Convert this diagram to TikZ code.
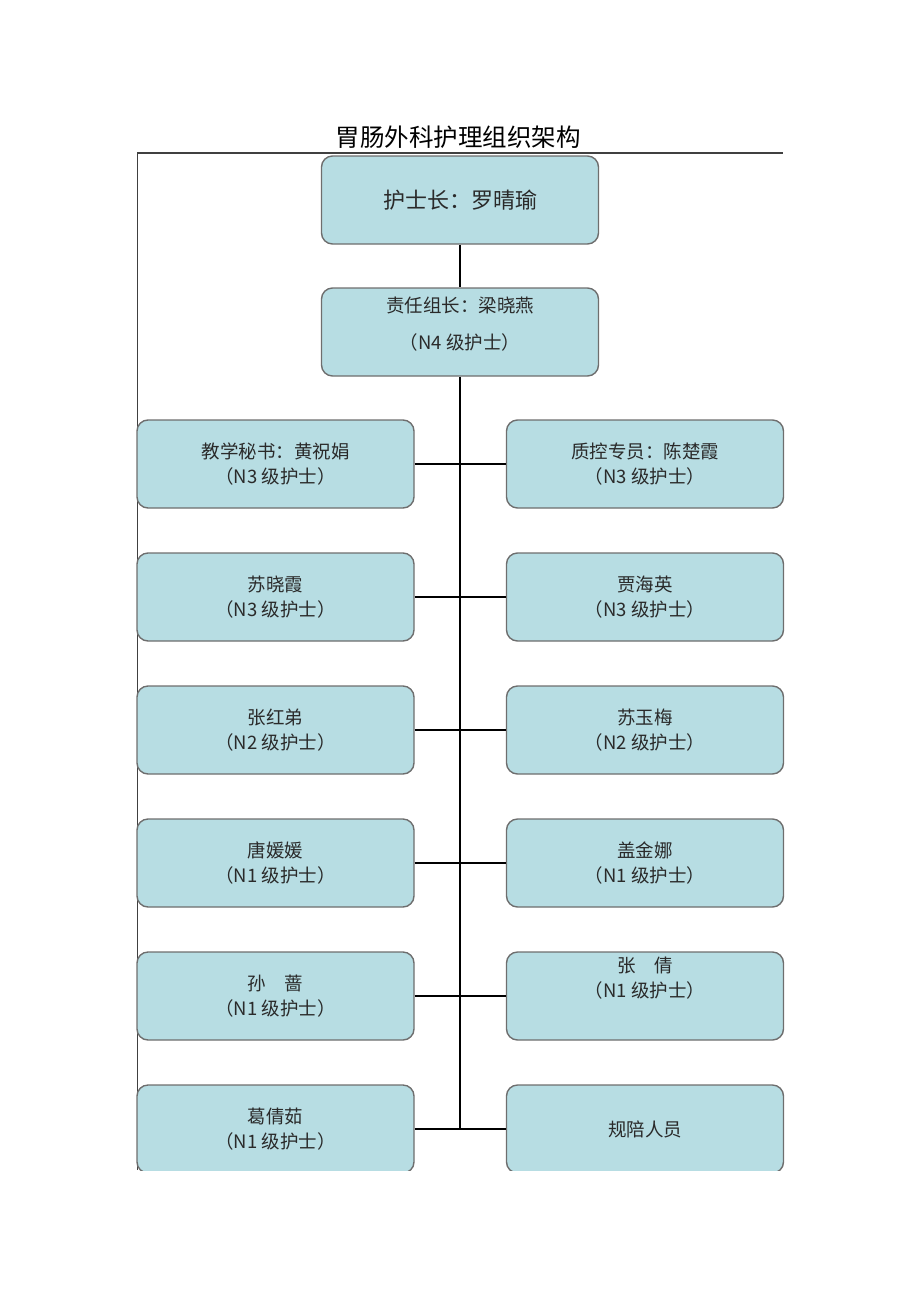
\documentclass[tikz,border=0pt]{standalone}
\usepackage{fontspec}
\setmainfont{Noto Sans CJK SC}

\definecolor{boxfill}{HTML}{B7DDE3}
\definecolor{boxline}{HTML}{6E6E6E}
\definecolor{inktext}{HTML}{2A2A2A}

\tikzset{
  staff/.style={draw=boxline, line width=1.4pt, fill=boxfill, rounded corners=11pt,
    minimum width=277pt, minimum height=88pt, inner sep=0pt, align=center,
    text=inktext, font=\fontsize{18.5}{25}\selectfont},
  link/.style={black, line width=2.8pt}
}

\begin{document}
\begin{tikzpicture}[x=1pt,y=1pt]
\useasboundingbox (0,0) rectangle (920,-1301);
% title and frame
\node (title) at (458,-137) {\fontsize{24.5}{24.5}\selectfont 胃肠外科护理组织架构};
\draw [black!75, line width=1.2pt] (137,-153) -- (783,-153);
\draw [black!75, line width=1pt] (137,-153) -- (137,-1170);

\begin{scope}
\clip (0,-150) rectangle (920,-1170);
\node [staff, font=\fontsize{22}{25}\selectfont] (head) at (460,-200) {护士长：罗晴瑜};
\node [staff, font=\fontsize{18.5}{37}\selectfont, text depth=17pt] (leader) at (460,-332) {责任组长：梁晓燕\\（N4 级护士）};
% left column
\node [staff] (l1) at (275.5,-464) {教学秘书：黄祝娟\\（N3 级护士）};
\node [staff] (l2) at (275.5,-597) {苏晓霞\\（N3 级护士）};
\node [staff] (l3) at (275.5,-730) {张红弟\\（N2 级护士）};
\node [staff] (l4) at (275.5,-863) {唐媛媛\\（N1 级护士）};
\node [staff] (l5) at (275.5,-996) {孙\quad 蔷\\（N1 级护士）};
\node [staff] (l6) at (275.5,-1129) {葛倩茹\\（N1 级护士）};
% right column
\node [staff] (r1) at (645,-464) {质控专员：陈楚霞\\（N3 级护士）};
\node [staff] (r2) at (645,-597) {贾海英\\（N3 级护士）};
\node [staff] (r3) at (645,-730) {苏玉梅\\（N2 级护士）};
\node [staff] (r4) at (645,-863) {盖金娜\\（N1 级护士）};
\node [staff, text depth=37pt] (r5) at (645,-996) {张\quad 倩\\（N1 级护士）};
\node [staff] (r6) at (645,-1129) {规陪人员};
\end{scope}

% connectors
\coordinate (jct) at (head |- l6.east);
\draw [link] (head) -- (leader);
\draw [link] (leader) -- (jct);
\draw [link] (l1.east) -- (r1.west);
\draw [link] (l2.east) -- (r2.west);
\draw [link] (l3.east) -- (r3.west);
\draw [link] (l4.east) -- (r4.west);
\draw [link] (l5.east) -- (r5.west);
\draw [link] (l6.east) -- (r6.west);
\end{tikzpicture}
\end{document}
